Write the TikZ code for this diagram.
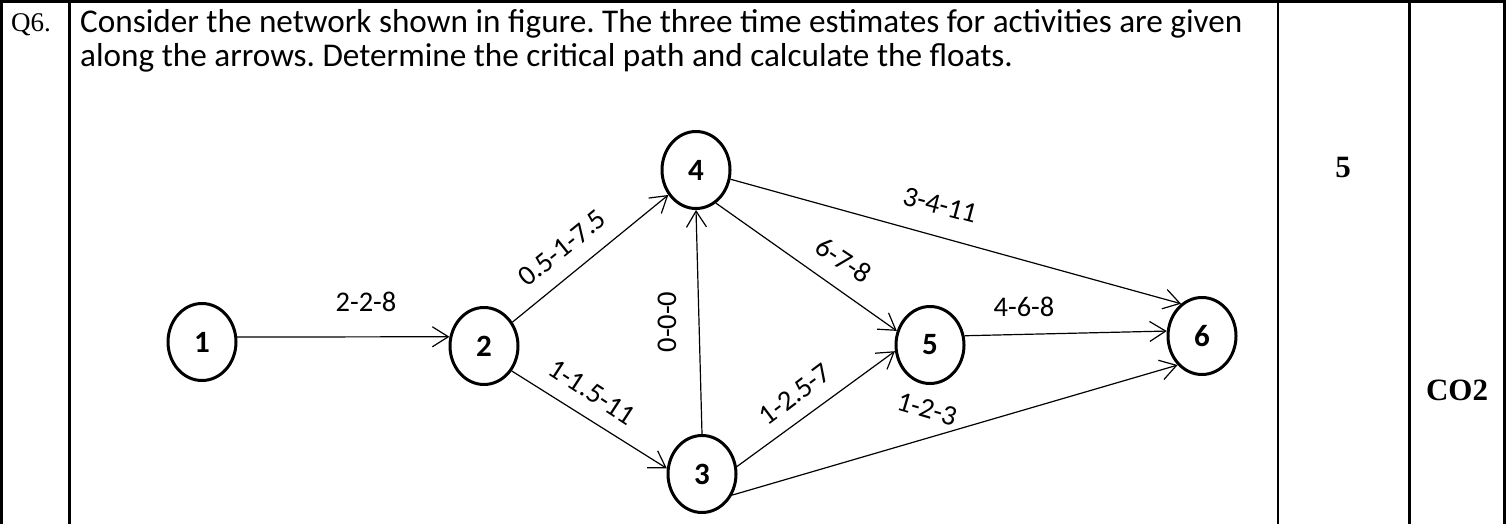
\documentclass[tikz,border=0pt]{standalone}
\usepackage{fontspec}
\setmainfont{Carlito}
\newfontfamily\timesf{Liberation Serif}
\usetikzlibrary{shapes.geometric,arrows.meta}
\frenchspacing
\begin{document}
\begin{tikzpicture}[x=1pt,y=-1pt,
 ev/.style={draw, ellipse, line width=3pt, minimum width=68pt, minimum height=77pt, inner sep=0pt, font=\fontsize{31}{34}\selectfont\bfseries},
 act/.style={draw, line width=1.2pt, -{Straight Barb[length=16pt,width=20pt]}},
 lab/.style={font=\fontsize{28.5}{30}\selectfont, inner sep=0pt},
 rule/.style={line width=2.5pt},
 qtext/.style={anchor=base west, inner sep=0pt, font=\fontsize{33.2}{36}\selectfont},
 tnr/.style={inner sep=0pt, font=\timesf\bfseries\fontsize{31}{34}\selectfont}]
\useasboundingbox (0,0) rectangle (1506,524);
% table rules
\draw[rule] (0,1.5) -- (1506,1.5);
\draw[rule] (1.5,0) -- (1.5,524);
\draw[rule] (69.5,0) -- (69.5,524);
\draw[rule] (1278,0) -- (1278,524);
\draw[rule] (1409.5,0) -- (1409.5,524);
\draw[rule] (1504.5,0) -- (1504.5,524);
% texts
\node[anchor=base west, inner sep=0pt, font=\timesf\fontsize{27}{30}\selectfont] (q) at (11,32) {Q6.};
\node[qtext] (t1) at (80,33) {Consider the network shown in figure. The three time estimates for activities are given};
\node[qtext] (t2) at (80,67) {along the arrows. Determine the critical path and calculate the floats.};
\node[tnr] (marks) at (1343,168) {5};
\node[tnr] (co) at (1457,390) {CO2};
% events
\node[ev] (n1) at (202,342) {1};
\node[ev] (n2) at (484,346) {2};
\node[ev] (n4) at (696,170) {4};
\node[ev] (n3) at (702,474) {3};
\node[ev] (n5) at (930,345) {5};
\node[ev] (n6) at (1202,336) {6};
% activities
\draw[act] (n1.8) -- (n2.165);
\draw[act] (n2.40) -- (n4.222);
\draw[act] (n2.-42) -- (n3.171);
\draw[act] (n3.north) -- (n4.south);
\draw[act] (n4.-59) -- (n5.157);
\draw[act] (n4.-15) -- (n6.123);
\draw[act] (n3.12) -- (n5.190);
\draw[act] (n3.-35) -- (n6.230);
\draw[act] (n5.15) -- (n6.172);
% labels
\node[lab] (l12) at (366,302) {2-2-8};
\node[lab, rotate=39] (l24) at (562,248) {0.5-1-7.5};
\node[lab, rotate=-33] (l23) at (592,392) {1-1.5-11};
\node[lab, rotate=90] (l34) at (667,322) {0-0-0};
\node[lab, rotate=-33.5] (l45) at (844,260) {6-7-8};
\node[lab, rotate=-15] (l46) at (940,205) {3-4-11};
\node[lab, rotate=37] (l35) at (795,394) {1-2.5-7};
\node[lab, rotate=-16.5] (l36) at (927,409) {1-2-3};
\node[lab] (l56) at (1024,307) {4-6-8};
\end{tikzpicture}
\end{document}
